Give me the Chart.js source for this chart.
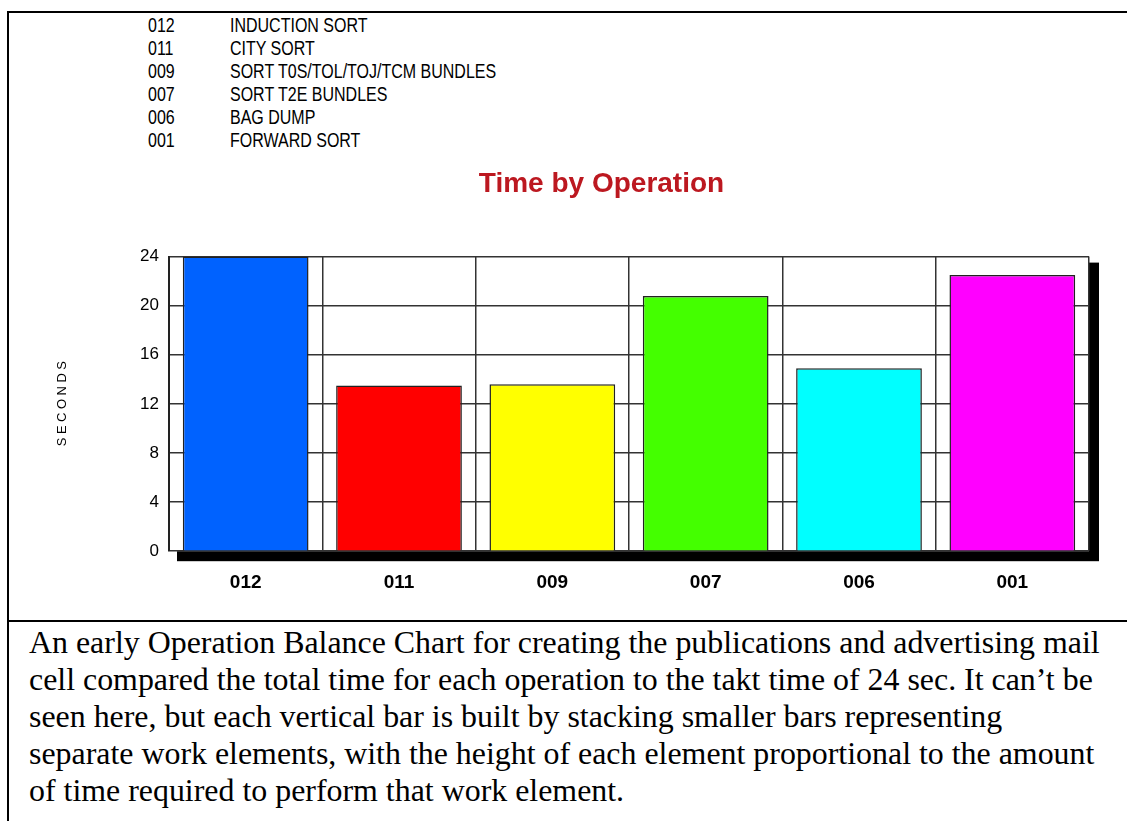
<!DOCTYPE html>
<html lang="en">
<head>
  <meta charset="UTF-8">
  <title>Time by Operation</title>
  <script src="https://cdn.jsdelivr.net/npm/chart.js"></script>
  <style>
    html, body { margin: 0; padding: 0; background: #fff; overflow: hidden; }
    body { width: 1127px; height: 821px; position: relative; }
    .frame { position: absolute; left: 7px; top: 11px; width: 1200px; height: 1000px; border: 2px solid #000; }
    .divider { position: absolute; left: 7px; top: 620px; width: 1200px; height: 2px; background: #000; }
    .chart-wrap { position: absolute; left: 0; top: 0; width: 1127px; height: 621px; }
    .ops { position: absolute; left: 0; top: 14px; font-family: "Liberation Sans", Arial, sans-serif; font-size: 20px; line-height: 23px; color: #000; }
    .ops div { position: relative; height: 23px; }
    .ops span { position: absolute; white-space: nowrap; transform: scaleX(0.8); transform-origin: 0 0; }
    .ops .code { left: 148px; }
    .ops .name { left: 230px; }
    .caption { position: absolute; left: 29px; top: 624px; font-family: "Liberation Serif", "Times New Roman", serif; font-size: 31.9px; line-height: 37px; color: #000; white-space: nowrap; }
  </style>
</head>
<body>
  <div class="frame"></div>
  <div class="divider"></div>
  <div class="ops" id="ops"></div>
  <div class="chart-wrap"><canvas id="opChart"></canvas></div>
  <div class="caption">
    An early Operation Balance Chart for creating the publications and advertising mail<br>
    cell compared the total time for each operation to the takt time of 24 sec. It can’t be<br>
    seen here, but each vertical bar is built by stacking smaller bars representing<br>
    separate work elements, with the height of each element proportional to the amount<br>
    of time required to perform that work element.
  </div>
  <script>
    // operations, in chart order
    const opCodes = ['012', '011', '009', '007', '006', '001'];
    const opNames = ['INDUCTION SORT', 'CITY SORT', 'SORT T0S/TOL/TOJ/TCM  BUNDLES', 'SORT T2E BUNDLES', 'BAG DUMP', 'FORWARD SORT'];
    const opSeconds = [24, 13.5, 13.6, 20.8, 14.9, 22.5];
    const barColors = ['#0062ff', '#ff0000', '#ffff00', '#44ff00', '#00ffff', '#ff00ff'];
    const yTicks = [0, 4, 8, 12, 16, 20, 24];

    // code list at the top
    let html = '';
    opCodes.forEach((c, i) => {
      html += `<div><span class="code">${c}</span><span class="name">${opNames[i]}</span></div>`;
    });
    document.getElementById('ops').innerHTML = html;

    // black drop shadow behind the plot area + white plot background
    const plotShadow = {
      id: 'plotShadow',
      beforeDraw(chart) {
        const { ctx, chartArea: a } = chart;
        ctx.save();
        ctx.fillStyle = '#000';
        ctx.fillRect(a.left + 8, a.top + 6, a.right - a.left + 2, a.bottom - a.top + 4);
        ctx.fillStyle = '#fff';
        ctx.fillRect(a.left, a.top, a.right - a.left, a.bottom - a.top);
        ctx.restore();
      },
      afterDraw(chart) {
        // spaced-out vertical axis caption
        const { ctx, chartArea: a } = chart;
        ctx.save();
        ctx.translate(62, (a.top + a.bottom) / 2);
        ctx.rotate(-Math.PI / 2);
        ctx.font = '13px "Liberation Sans", Arial, sans-serif';
        ctx.letterSpacing = '3.5px';
        ctx.fillStyle = '#000';
        ctx.textAlign = 'center';
        ctx.textBaseline = 'middle';
        ctx.fillText('SECONDS', 2, 0);
        ctx.restore();
      }
    };

    new Chart(document.getElementById('opChart'), {
      type: 'bar',
      data: {
        labels: opCodes,
        datasets: [{
          label: 'Seconds',
          data: opSeconds,
          backgroundColor: barColors,
          borderColor: '#222',
          borderWidth: 1.5,
          categoryPercentage: 1,
          barPercentage: 0.82
        }]
      },
      options: {
        responsive: true,
        maintainAspectRatio: false,
        animation: false,
        layout: { padding: { left: 114, right: 38, top: 0, bottom: 7 } },
        plugins: {
          legend: { display: false },
          tooltip: { enabled: false },
          title: {
            display: true,
            text: 'Time by Operation',
            color: '#bc1820',
            font: { family: '"Liberation Sans", Arial, sans-serif', size: 28, weight: 'bold' },
            padding: { top: 167, bottom: 56 }
          }
        },
        scales: {
          x: {
            grid: { color: '#333', lineWidth: 1.5, drawTicks: false, offset: true },
            border: { display: false },
            ticks: {
              color: '#000',
              padding: 20,
              font: { family: '"Liberation Sans", Arial, sans-serif', size: 19, weight: 'bold' }
            }
          },
          y: {
            min: 0,
            max: 24,
            afterFit(scale) { scale.width = 55; },
            afterBuildTicks(scale) { scale.ticks = yTicks.map(v => ({ value: v })); },
            grid: { color: '#333', lineWidth: 1.5, drawTicks: false },
            border: { display: true, color: '#222', width: 2 },
            ticks: {
              color: '#000',
              padding: 10,
              font: { family: '"Liberation Sans", Arial, sans-serif', size: 17 }
            }
          }
        }
      },
      plugins: [plotShadow]
    });
  </script>
</body>
</html>
